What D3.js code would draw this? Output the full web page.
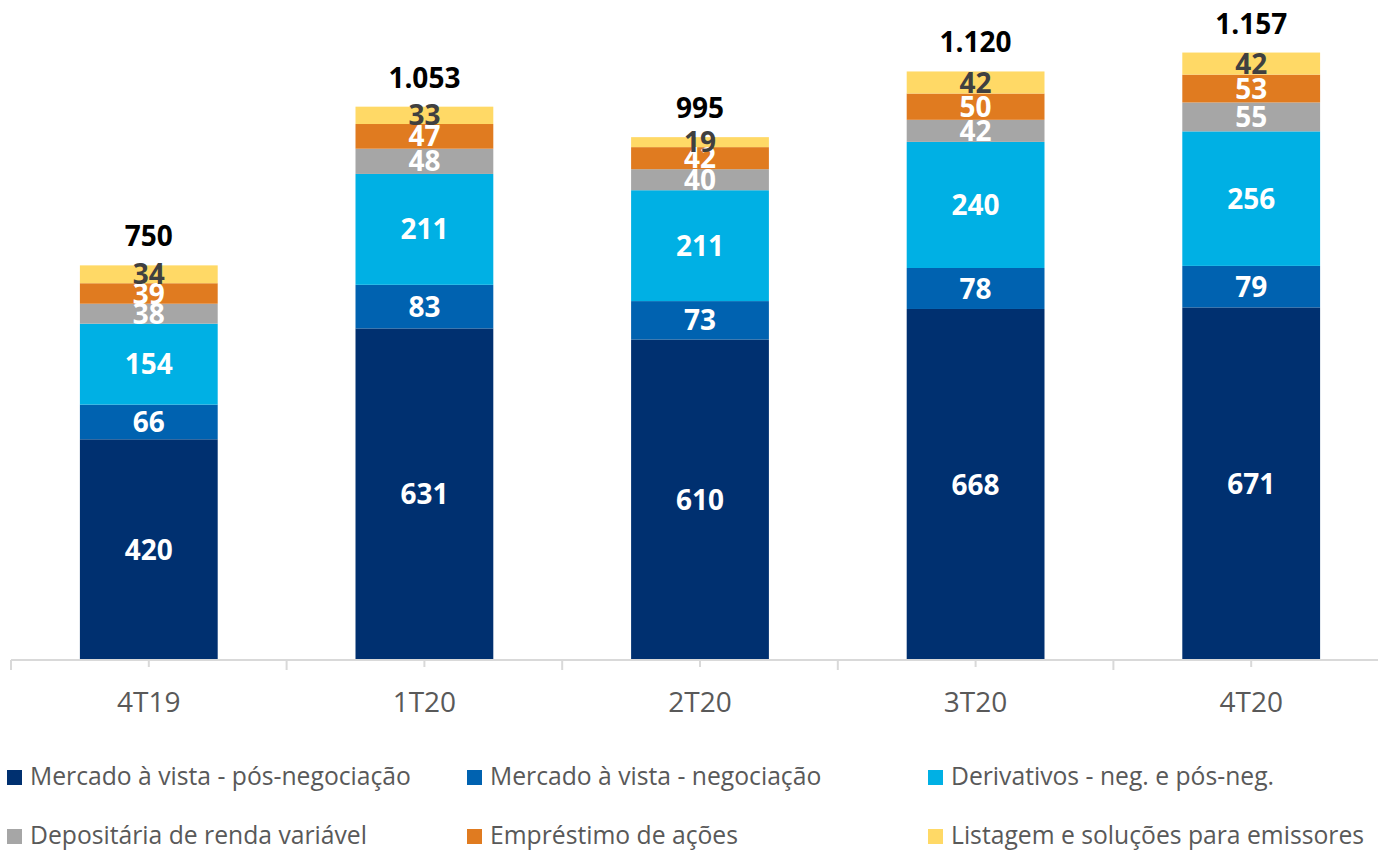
<!DOCTYPE html>
<html>
<head>
<meta charset="utf-8">
<script src="https://cdn.jsdelivr.net/npm/d3@7"></script>
<style>
  html, body { margin: 0; padding: 0; background: #fff; }
  svg { display: block; }
  text { font-family: "Open Sans", "DejaVu Sans", sans-serif; }
</style>
</head>
<body>
<svg id="chart" width="1378" height="850"></svg>
<script>
const categories = ["4T19", "1T20", "2T20", "3T20", "4T20"];
const seriesNames = [
  "Mercado à vista - pós-negociação",
  "Mercado à vista - negociação",
  "Derivativos - neg. e pós-neg.",
  "Depositária de renda variável",
  "Empréstimo de ações",
  "Listagem e soluções para emissores"
];
const posNegociacao = [420, 631, 610, 668, 671];
const negociacao = [66, 83, 73, 78, 79];
const derivativos = [154, 211, 211, 240, 256];
const depositaria = [38, 48, 40, 42, 55];
const emprestimo = [39, 47, 42, 50, 53];
const listagem = [34, 33, 19, 42, 42];
const totalLabels = ["750", "1.053", "995", "1.120", "1.157"];
const colors = ["#003070", "#0062B0", "#00B0E4", "#A6A6A6", "#E07B20", "#FFD966"];
const labelColors = ["#ffffff", "#ffffff", "#ffffff", "#ffffff", "#ffffff", "#404040"];

(function () {
const seriesValues = [posNegociacao, negociacao, derivativos, depositaria, emprestimo, listagem];
const keys = seriesNames;
const table = categories.map((c, i) => {
  const row = { cat: c };
  keys.forEach((k, j) => row[k] = seriesValues[j][i]);
  return row;
});

const svg = d3.select("#chart");
const x = d3.scaleBand().domain(categories).range([11, 1389]).paddingInner(0.5).paddingOuter(0.25);
const y = d3.scaleLinear().domain([0, 1256]).range([660, 0]);

const stacked = d3.stack().keys(keys)(table);

const layers = svg.append("g").selectAll("g").data(stacked).join("g")
  .attr("fill", (d, i) => colors[i]);
layers.selectAll("rect").data(d => d).join("rect")
  .attr("x", d => x(d.data.cat))
  .attr("width", x.bandwidth())
  .attr("y", d => y(d[1]))
  .attr("height", d => y(d[0]) - y(d[1]));

// segment labels
const lbl = svg.append("g");
stacked.forEach((layer, i) => {
  lbl.selectAll(null).data(layer).join("text")
    .attr("x", d => x(d.data.cat) + x.bandwidth() / 2)
    .attr("y", d => (y(d[0]) + y(d[1])) / 2)
    .attr("dy", "0.36em")
    .attr("text-anchor", "middle")
    .attr("font-size", 28)
    .attr("font-weight", 700)
    .attr("fill", labelColors[i])
    .text(d => d[1] - d[0]);
});

// totals
const topLayer = stacked[stacked.length - 1];
svg.append("g").selectAll("text").data(topLayer).join("text")
  .attr("x", d => x(d.data.cat) + x.bandwidth() / 2)
  .attr("y", d => y(d[1]) - 19)
  .attr("text-anchor", "middle")
  .attr("font-size", 28)
  .attr("font-weight", 700)
  .attr("fill", "#000")
  .text((d, i) => totalLabels[i]);

// x axis
const axisG = svg.append("g");
axisG.append("line").attr("x1", 11).attr("x2", 1378).attr("y1", 660).attr("y2", 660)
  .attr("stroke", "#D9D9D9").attr("stroke-width", 2);
const step = x.step();
const bounds = d3.range(categories.length + 1).map(i => 11 + i * step);
axisG.selectAll("line.major").data(bounds).join("line").attr("class", "major")
  .attr("x1", d => d).attr("x2", d => d).attr("y1", 660).attr("y2", 670)
  .attr("stroke", "#D9D9D9").attr("stroke-width", 2);
axisG.selectAll("line.minor").data(categories).join("line").attr("class", "minor")
  .attr("x1", d => x(d) + x.bandwidth() / 2).attr("x2", d => x(d) + x.bandwidth() / 2)
  .attr("y1", 660).attr("y2", 667)
  .attr("stroke", "#D9D9D9").attr("stroke-width", 2);
axisG.selectAll("text").data(categories).join("text")
  .attr("x", d => x(d) + x.bandwidth() / 2)
  .attr("y", 712)
  .attr("text-anchor", "middle")
  .attr("font-size", 28)
  .attr("fill", "#595959")
  .text(d => d);

// legend
const legPos = [
  [7, 770], [467, 770], [928, 770],
  [7, 829], [467, 829], [928, 829]
];
const leg = svg.append("g").selectAll("g").data(seriesNames).join("g")
  .attr("transform", (d, i) => `translate(${legPos[i][0]},${legPos[i][1]})`);
leg.append("rect").attr("width", 15).attr("height", 15).attr("fill", (d, i) => colors[i]);
leg.append("text").attr("x", 23).attr("y", 15)
  .attr("font-size", 24.7).attr("fill", "#595959").text(d => d);
})();
</script>
</body>
</html>
